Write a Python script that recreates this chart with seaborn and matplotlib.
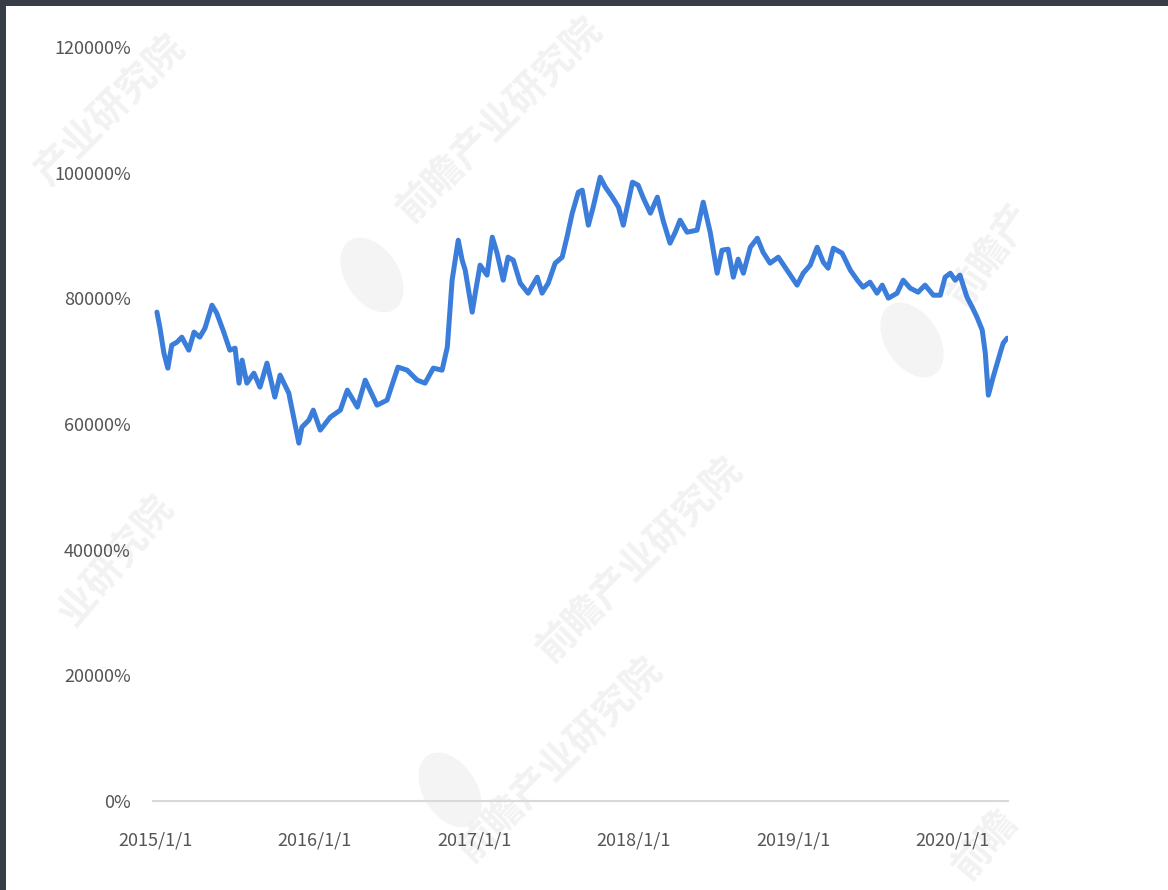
import pandas as pd
import numpy as np
import matplotlib.pyplot as plt
import matplotlib.ticker as mticker
from matplotlib.patches import Ellipse
import seaborn as sns

# values (percent)
dates = ["2015-01-05", "2015-01-12", "2015-01-21", "2015-01-30", "2015-02-08", "2015-02-20",
         "2015-03-03", "2015-03-19", "2015-03-31", "2015-04-13", "2015-04-25", "2015-05-11",
         "2015-05-22", "2015-06-07", "2015-06-21", "2015-07-03", "2015-07-12", "2015-07-19",
         "2015-07-30", "2015-08-15", "2015-08-29", "2015-09-14", "2015-10-02", "2015-10-14",
         "2015-11-03", "2015-11-26", "2015-12-03", "2015-12-19", "2015-12-29", "2016-01-14",
         "2016-02-06", "2016-02-29", "2016-03-16", "2016-04-08", "2016-04-26", "2016-05-23",
         "2016-06-15", "2016-07-10", "2016-07-31", "2016-08-23", "2016-09-10", "2016-09-29",
         "2016-10-19", "2016-10-31", "2016-11-11", "2016-11-25", "2016-12-04", "2016-12-11",
         "2016-12-27", "2017-01-03", "2017-01-14", "2017-01-30", "2017-02-11", "2017-02-22",
         "2017-03-08", "2017-03-19", "2017-03-31", "2017-04-16", "2017-05-04", "2017-05-25",
         "2017-06-05", "2017-06-19", "2017-07-05", "2017-07-21", "2017-08-01", "2017-08-13",
         "2017-08-27", "2017-09-05", "2017-09-19", "2017-09-30", "2017-10-16", "2017-10-28",
         "2017-11-13", "2017-11-27", "2017-12-08", "2017-12-29", "2018-01-11", "2018-01-23",
         "2018-02-08", "2018-02-24", "2018-03-09", "2018-03-25", "2018-04-06", "2018-04-17",
         "2018-05-03", "2018-05-26", "2018-06-09", "2018-06-25", "2018-07-11", "2018-07-22",
         "2018-08-05", "2018-08-17", "2018-08-28", "2018-09-09", "2018-09-25", "2018-10-11",
         "2018-10-24", "2018-11-09", "2018-11-28", "2018-12-18", "2019-01-10", "2019-01-24",
         "2019-02-09", "2019-02-25", "2019-03-11", "2019-03-22", "2019-04-03", "2019-04-23",
         "2019-05-12", "2019-05-28", "2019-06-10", "2019-06-26", "2019-07-12", "2019-07-24",
         "2019-08-07", "2019-08-27", "2019-09-10", "2019-09-26", "2019-10-14", "2019-10-30",
         "2019-11-18", "2019-12-04", "2019-12-15", "2019-12-27", "2020-01-07", "2020-01-18",
         "2020-02-03", "2020-02-15", "2020-02-26", "2020-03-09", "2020-03-16", "2020-03-23",
         "2020-04-03", "2020-04-19", "2020-04-26", "2020-05-05"]

values = [77800, 75250, 71280, 68890, 72550, 73030,
          73820, 71750, 74620, 73820, 75250, 78910,
          77640, 74620, 71750, 72070, 66500, 70160,
          66500, 68090, 65870, 69690, 64280, 67780,
          64910, 56960, 59500, 60620, 62210, 59030,
          61090, 62210, 65390, 62690, 66980, 63000,
          63800, 69050, 68570, 66980, 66500, 68890,
          68570, 72230, 82890, 89250, 86070, 84480,
          77800, 80820, 85280, 83690, 89730, 87190,
          82890, 86550, 86070, 82410, 80820, 83370,
          80820, 82410, 85600, 86550, 89730, 93550,
          96890, 97210, 91640, 94510, 99280, 97690,
          96100, 94510, 91640, 98480, 98010, 95940,
          93550, 96100, 92440, 88780, 90530, 92440,
          90530, 90850, 95300, 90530, 84000, 87660,
          87820, 83370, 86230, 84000, 88140, 89570,
          87350, 85600, 86550, 84480, 82100, 84000,
          85280, 88140, 85750, 84800, 87980, 87190,
          84480, 82890, 81780, 82570, 80820, 82100,
          80030, 80820, 82890, 81620, 80980, 82100,
          80500, 80500, 83370, 84000, 82890, 83690,
          80190, 78600, 77000, 74940, 71280, 64590,
          67460, 71280, 72870, 73660]

tick_dates = ["2015-01-01", "2016-01-01", "2017-01-01", "2018-01-01", "2019-01-01", "2020-01-01"]
tick_labels = ["2015/1/1", "2016/1/1", "2017/1/1", "2018/1/1", "2019/1/1", "2020/1/1"]
y_ticks = [0, 20000, 40000, 60000, 80000, 100000, 120000]

df = pd.DataFrame({"date": pd.to_datetime(dates), "value": values})

sns.set_style("white")
plt.rcParams['font.family'] = ['Liberation Sans Narrow', 'Noto Sans CJK SC', 'DejaVu Sans']

fig = plt.figure(figsize=(11.68, 8.90), dpi=100, facecolor='#373d47')
# white page with the dark screenshot edge on the top and left
fig.patches.append(plt.Rectangle((6 / 1168, 0), 1, (890 - 6) / 890, transform=fig.transFigure,
                                 facecolor='white', edgecolor='none', zorder=0))

# faint watermarks (text + round logo)
wm = [(110, 110, 45, "产业研究院"), (500, 120, 45, "前瞻产业研究院"), (990, 255, 55, "前瞻产"),
      (115, 560, 50, "业研究院"), (640, 560, 45, "前瞻产业研究院"), (560, 760, 45, "前瞻产业研究院"),
      (985, 845, 50, "前瞻")]
for px, py, rot, s in wm:
    fig.text(px / 1168, 1 - py / 890, s, rotation=rot, fontsize=28, color='#f2f2f2',
             family=['Noto Sans CJK SC', 'DejaVu Sans'], fontweight='bold',
             ha='center', va='center', zorder=1)
for px, py in [(372, 275), (912, 340), (450, 790)]:
    fig.patches.append(Ellipse((px / 1168, 1 - py / 890), 56 / 1168, 78 / 890, angle=20,
                               transform=fig.transFigure, facecolor='#f4f4f4',
                               edgecolor='none', zorder=1))

ax = fig.add_axes([153 / 1168, (890 - 801) / 890, (1008 - 153) / 1168, (801 - 47) / 890])
ax.set_facecolor('none')
ax.set_zorder(2)

sns.lineplot(data=df, x="date", y="value", ax=ax, color='#3a7dda', linewidth=3.6)

ax.set_xlim(pd.Timestamp("2014-12-27"), pd.Timestamp("2020-05-07"))
ax.set_ylim(0, 120000)
ax.set_xticks(pd.to_datetime(tick_dates))
ax.set_xticklabels(tick_labels)
ax.set_yticks(y_ticks)
ax.yaxis.set_major_formatter(mticker.FuncFormatter(lambda v, p: f"{int(v)}%"))

for side in ['top', 'right', 'left']:
    ax.spines[side].set_visible(False)
ax.spines['bottom'].set_color('#d9d9d9')
ax.spines['bottom'].set_linewidth(1.5)
ax.tick_params(axis='both', length=0, labelsize=13, colors='#555555')
ax.tick_params(axis='y', pad=16)
ax.tick_params(axis='x', pad=22)
ax.set_xlabel("")
ax.set_ylabel("")

fig.savefig("out.png", dpi=100, facecolor=fig.get_facecolor())
